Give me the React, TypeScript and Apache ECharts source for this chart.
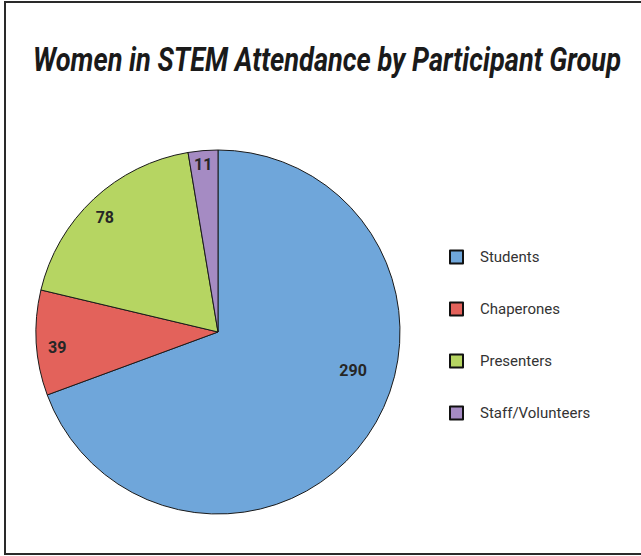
import React, { useEffect, useRef } from "react";
import * as echarts from "echarts";

const titleText = "Women in STEM Attendance by Participant Group";
const categories = ["Students", "Chaperones", "Presenters", "Staff/Volunteers"];
const values = [290, 39, 78, 11];
const colors = ["#6FA6DA", "#E3625B", "#B6D562", "#A58BC3"];
const labelDX = [58, -67, -49, -7];
const labelDY = [-15, 10, -46, -74];

const FONT = "Roboto, 'Noto Sans', sans-serif";

export default function App() {
  const ref = useRef<HTMLDivElement>(null);
  useEffect(() => {
    if (!ref.current) return;
    const chart = echarts.init(ref.current, undefined, { renderer: "svg" });
    chart.setOption({
      animation: false,
      backgroundColor: "#ffffff",
      graphic: [
        {
          type: "rect",
          shape: { x: 5, y: 2, width: 700, height: 552 },
          style: { fill: "none", stroke: "#2a2a2a", lineWidth: 2 },
          silent: true,
          z: -1,
        },
        {
          type: "text",
          x: 327,
          y: 59,
          scaleX: 0.8,
          silent: true,
          style: {
            text: titleText,
            fontFamily: FONT,
            fontSize: 34,
            fontWeight: "bold",
            fontStyle: "italic",
            fill: "#1a1a1a",
            textAlign: "center",
            textVerticalAlign: "middle",
          },
        },
      ],
      legend: {
        orient: "vertical",
        left: 444,
        top: 244,
        itemGap: 36,
        itemWidth: 13,
        itemHeight: 13,
        icon: "rect",
        selectedMode: false,
        data: categories,
        itemStyle: { borderColor: "#111", borderWidth: 2 },
        textStyle: {
          fontFamily: FONT,
          fontSize: 15,
          lineHeight: 16,
          color: "#333",
          padding: [0, 0, 0, 12],
        },
      },
      series: [
        {
          type: "pie",
          center: [218, 332],
          radius: [0, 182],
          startAngle: 90,
          clockwise: true,
          avoidLabelOverlap: false,
          data: categories.map((name, i) => ({
            name,
            value: values[i],
            itemStyle: { color: colors[i] },
          })),
          itemStyle: { borderColor: "#1a1a1a", borderWidth: 1 },
          label: {
            show: true,
            position: "inside",
            formatter: "{c}",
            fontFamily: FONT,
            fontSize: 16,
            fontWeight: "bold",
            color: "#262626",
          },
          labelLine: { show: false },
          labelLayout: (params: any) => ({
            dx: labelDX[params.dataIndex],
            dy: labelDY[params.dataIndex],
          }),
          emphasis: { disabled: true },
        },
      ],
    });
    return () => chart.dispose();
  }, []);
  return (
    <div
      ref={ref}
      style={{ position: "fixed", left: 0, top: 0, width: 641, height: 556 }}
    />
  );
}
